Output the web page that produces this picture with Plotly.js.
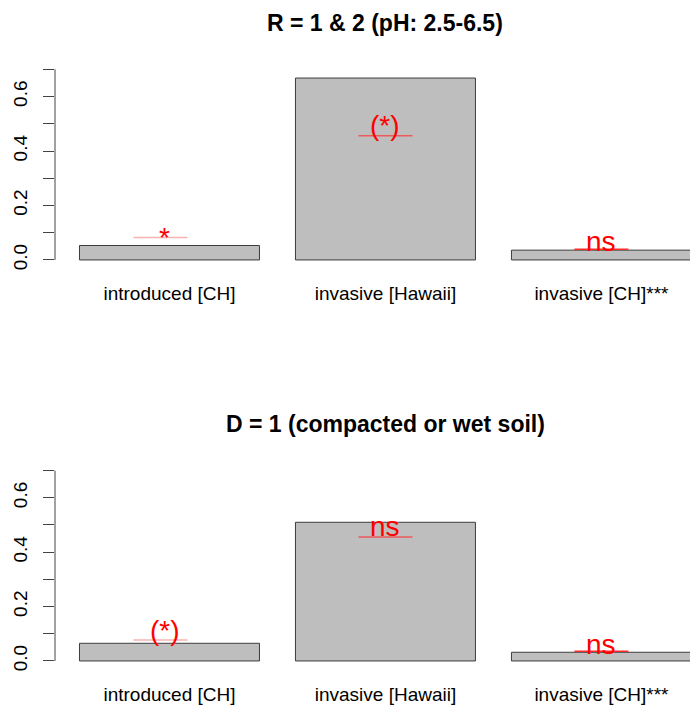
<!DOCTYPE html>
<html>
<head>
<meta charset="utf-8">
<script src="https://cdn.plot.ly/plotly-3.0.1.min.js"></script>
<style>
  html, body { margin: 0; padding: 0; background: #ffffff; overflow: hidden; }
  #chart { width: 690px; height: 706px; }
</style>
</head>
<body>
<div id="chart"></div>
<script>
// Groups shown in both panels
const categories = ["introduced [CH]", "invasive [Hawaii]", "invasive [CH]***"];
const panelTitles = ["R = 1 & 2 (pH: 2.5-6.5)", "D = 1 (compacted or wet soil)"];

// Observed proportions (bar heights)
const valuesR = [0.053, 0.668, 0.036];
const valuesD = [0.065, 0.510, 0.032];

// Reference levels drawn as short horizontal segments
const refR = [0.082, 0.456, 0.039];
const refD = [0.077, 0.456, 0.036];
const refCenter = [0.65, 1.9, 3.1];

// Significance labels and their baseline heights
const sigR = ["*", "(*)", "ns"];
const sigD = ["(*)", "ns", "ns"];
const sigYR = [0.044, 0.457, 0.031];
const sigYD = [0.072, 0.457, 0.022];
const sigX = [0.675, 1.9, 3.1];

// Y axis ticks
const yTicks = [0, 0.1, 0.2, 0.3, 0.4, 0.5, 0.6, 0.7];
const yTickLabels = ["0.0", "", "0.2", "", "0.4", "", "0.6", ""];

// barplot-style layout: unit-width bars separated by 0.2
const barX = categories.map((_, i) => 0.7 + 1.2 * i);

const FONT = "Liberation Sans, Arial, Helvetica, sans-serif";
const refColors = ["#F7B3B3", "#EE5A5A", "#FF2A2A"];

const panels = [
  { values: valuesR, ref: refR, sig: sigR, sigY: sigYR, title: panelTitles[0], xa: "x", ya: "y" },
  { values: valuesD, ref: refD, sig: sigD, sigY: sigYD, title: panelTitles[1], xa: "x2", ya: "y2" }
];

const traces = [];
const annotations = [];
const shapes = [];

panels.forEach((p, k) => {
  traces.push({
    type: "bar",
    x: barX,
    y: p.values,
    width: 1,
    xaxis: p.xa,
    yaxis: p.ya,
    marker: { color: "#BEBEBE", line: { color: "#3c3c3c", width: 1 } },
    hoverinfo: "skip",
    showlegend: false
  });
  p.ref.forEach((v, i) => {
    traces.push({
      type: "scatter",
      mode: "lines",
      x: [refCenter[i] - 0.15, refCenter[i] + 0.15],
      y: [v, v],
      xaxis: p.xa,
      yaxis: p.ya,
      line: { color: refColors[i], width: 1.5 },
      hoverinfo: "skip",
      showlegend: false
    });
  });
  p.sig.forEach((s, i) => {
    annotations.push({
      xref: p.xa, yref: p.ya,
      x: sigX[i], y: p.sigY[i],
      text: s, showarrow: false,
      xanchor: "center", yanchor: "bottom", yshift: -7,
      font: { family: FONT, size: 28, color: "#FF0000" }
    });
  });
  annotations.push({
    xref: p.xa, yref: "paper",
    x: 1.9, y: k === 0 ? 0.9674 : 0.4001,
    text: "<b>" + p.title + "</b>", showarrow: false,
    xanchor: "center", yanchor: "middle",
    font: { family: FONT, size: 23, color: "#000000" }
  });
  shapes.push({
    type: "line",
    xref: p.xa + " domain", yref: p.ya,
    x0: 0, x1: 0, y0: 0, y1: 0.7,
    line: { color: "#444444", width: 1 }
  });
});

const xAxisBase = {
  range: [0.064, 3.592],
  tickmode: "array",
  tickvals: barX,
  ticktext: categories,
  ticks: "",
  showline: false,
  showgrid: false,
  zeroline: false,
  ticklabelstandoff: 12,
  tickfont: { family: FONT, size: 19, color: "#000000" },
  fixedrange: true
};
const yAxisBase = {
  range: [-0.028, 0.728],
  tickmode: "array",
  tickvals: yTicks,
  ticktext: yTickLabels,
  tickangle: -90,
  ticks: "outside",
  ticklen: 11,
  tickwidth: 1,
  tickcolor: "#444444",
  showline: false,
  showgrid: false,
  zeroline: false,
  ticklabelstandoff: 8,
  tickfont: { family: FONT, size: 19, color: "#000000" },
  fixedrange: true
};

const layout = {
  width: 690,
  height: 706,
  margin: { l: 55, r: 0, t: 0, b: 0 },
  paper_bgcolor: "#ffffff",
  plot_bgcolor: "#ffffff",
  font: { family: FONT },
  xaxis: Object.assign({}, xAxisBase, { domain: [0, 1], anchor: "y" }),
  yaxis: Object.assign({}, yAxisBase, { domain: [0.621, 0.9126], anchor: "x" }),
  xaxis2: Object.assign({}, xAxisBase, { domain: [0, 1], anchor: "y2" }),
  yaxis2: Object.assign({}, yAxisBase, { domain: [0.053, 0.3442], anchor: "x2" }),
  annotations: annotations,
  shapes: shapes,
  showlegend: false
};

Plotly.newPlot("chart", traces, layout, { displayModeBar: false, staticPlot: true });
</script>
</body>
</html>
